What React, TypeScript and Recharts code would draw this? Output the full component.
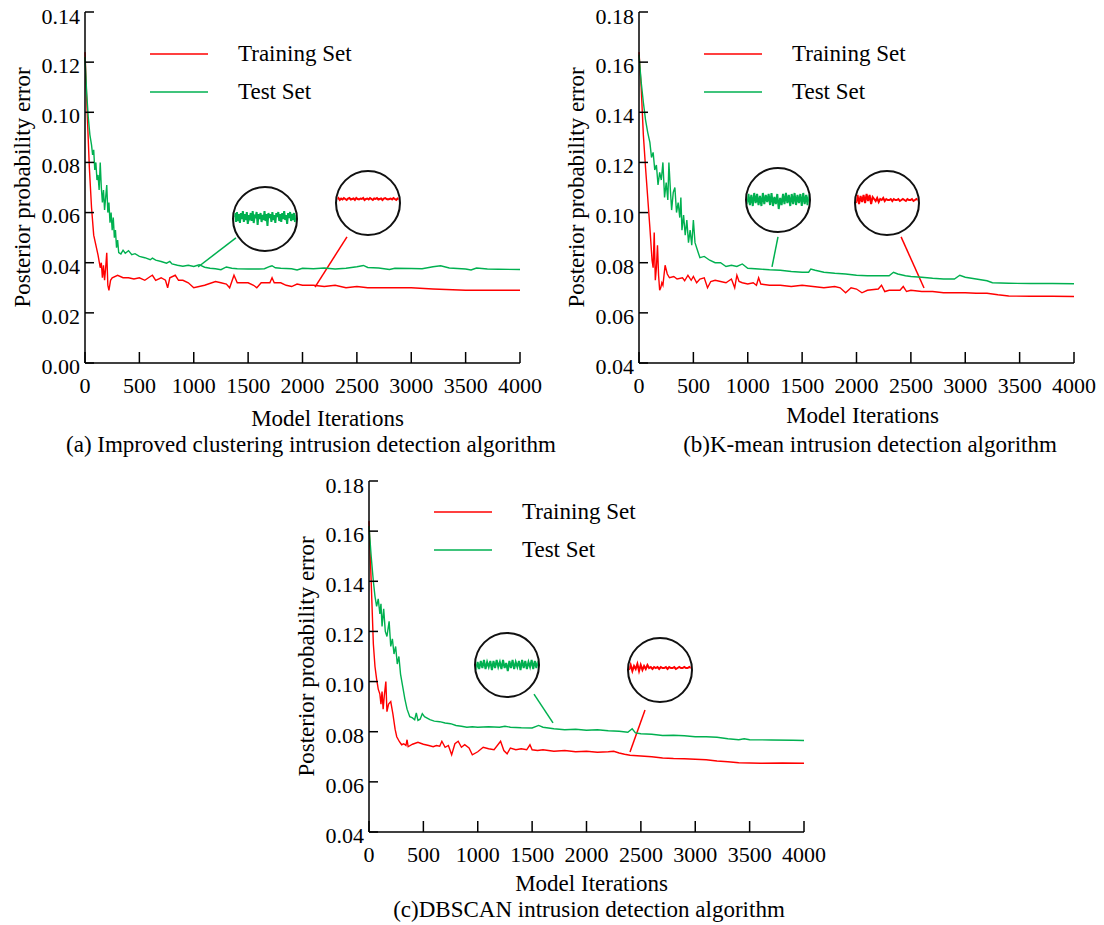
import React from "react";
import { Label, Legend, Line, LineChart, ReferenceLine, XAxis, YAxis } from "recharts";

const FONT = '"Liberation Serif", "Times New Roman", serif';
const RED = "#ff0000";
const GREEN = "#00b050";

const iterTicks = [0, 500, 1000, 1500, 2000, 2500, 3000, 3500, 4000];
const errTicksA = [0, 0.02, 0.04, 0.06, 0.08, 0.1, 0.12, 0.14];
const errTicksBC = [0.04, 0.06, 0.08, 0.1, 0.12, 0.14, 0.16, 0.18];
const seriesOrder = ["Training Set", "Test Set"];

// [iteration, posterior probability error]
const trainA: [number, number][] = [
  [0, 0.124], [20, 0.1], [40, 0.078], [60, 0.062], [80, 0.051], [100, 0.047],
  [120, 0.043], [140, 0.038], [150, 0.04], [160, 0.034], [170, 0.039], [180, 0.033],
  [190, 0.038], [200, 0.044], [210, 0.031], [220, 0.029], [235, 0.033], [250, 0.034],
  [300, 0.035], [350, 0.034], [400, 0.034], [450, 0.0335], [500, 0.034], [550, 0.033],
  [600, 0.0345], [620, 0.035], [650, 0.033], [700, 0.034], [740, 0.033], [760, 0.03],
  [780, 0.034], [830, 0.035], [860, 0.033], [900, 0.033], [950, 0.032], [1000, 0.03],
  [1100, 0.031], [1200, 0.0325], [1250, 0.032], [1300, 0.0315], [1330, 0.03], [1370, 0.035],
  [1400, 0.032], [1500, 0.032], [1550, 0.031], [1580, 0.03], [1620, 0.032], [1700, 0.032],
  [1720, 0.034], [1740, 0.032], [1800, 0.032], [1850, 0.031], [1900, 0.0305], [1950, 0.0315],
  [2000, 0.031], [2100, 0.031], [2200, 0.0305], [2300, 0.031], [2400, 0.03], [2500, 0.0305],
  [2600, 0.03], [2800, 0.03], [3000, 0.03], [3200, 0.0295], [3500, 0.029], [4000, 0.029],
];

const testA: [number, number][] = [
  [0, 0.122], [15, 0.108], [30, 0.098], [45, 0.091], [60, 0.087], [70, 0.083], [80, 0.085],
  [90, 0.077], [100, 0.08], [110, 0.073], [120, 0.075], [130, 0.069], [140, 0.08], [150, 0.07],
  [160, 0.064], [170, 0.069], [180, 0.061], [190, 0.066], [200, 0.071], [210, 0.06], [220, 0.064],
  [230, 0.056], [240, 0.06], [250, 0.053], [260, 0.058], [270, 0.05], [280, 0.053], [290, 0.046],
  [300, 0.049], [310, 0.044], [330, 0.0435], [350, 0.045], [370, 0.0438], [400, 0.0448],
  [430, 0.0432], [460, 0.0436], [500, 0.0425], [550, 0.042], [600, 0.0412], [620, 0.0418],
  [650, 0.041], [700, 0.0405], [750, 0.0398], [780, 0.0405], [800, 0.0395], [850, 0.039],
  [900, 0.0386], [950, 0.039], [1000, 0.0385], [1050, 0.0392], [1100, 0.0382], [1150, 0.0378],
  [1200, 0.0376], [1250, 0.0372], [1300, 0.0383], [1350, 0.0378], [1400, 0.0376], [1500, 0.0375],
  [1600, 0.0375], [1650, 0.0376], [1700, 0.0385], [1720, 0.0388], [1750, 0.038], [1800, 0.0378],
  [1900, 0.0376], [1950, 0.0371], [2000, 0.0378], [2100, 0.0376], [2200, 0.0379], [2300, 0.0375],
  [2400, 0.0378], [2500, 0.0384], [2560, 0.0389], [2600, 0.0381], [2700, 0.0379], [2800, 0.0373],
  [2850, 0.0378], [3000, 0.0377], [3100, 0.0376], [3200, 0.0384], [3270, 0.0388], [3350, 0.0379],
  [3500, 0.0375], [3550, 0.0371], [3600, 0.0379], [3700, 0.0375], [3800, 0.0374], [4000, 0.0373],
];

const trainB: [number, number][] = [
  [0, 0.164], [20, 0.15], [40, 0.131], [60, 0.118], [80, 0.106], [100, 0.094], [120, 0.081],
  [130, 0.078], [140, 0.092], [150, 0.073], [160, 0.078], [170, 0.087], [180, 0.075], [190, 0.069],
  [200, 0.07], [210, 0.072], [220, 0.071], [240, 0.079], [260, 0.0755], [280, 0.074], [320, 0.0745],
  [350, 0.0735], [400, 0.074], [420, 0.0728], [450, 0.075], [480, 0.073], [500, 0.0745], [530, 0.072],
  [560, 0.0735], [600, 0.074], [630, 0.07], [660, 0.0725], [700, 0.073], [750, 0.0725], [800, 0.072],
  [850, 0.0735], [880, 0.07], [900, 0.075], [920, 0.0725], [950, 0.072], [1000, 0.0715], [1050, 0.072],
  [1080, 0.071], [1100, 0.074], [1120, 0.0715], [1200, 0.071], [1300, 0.071], [1400, 0.0705],
  [1500, 0.071], [1600, 0.0705], [1700, 0.07], [1800, 0.0705], [1850, 0.07], [1900, 0.068],
  [1950, 0.07], [2000, 0.0695], [2050, 0.068], [2100, 0.069], [2200, 0.0695], [2230, 0.071],
  [2260, 0.0685], [2300, 0.069], [2400, 0.069], [2430, 0.0705], [2460, 0.0685], [2500, 0.069],
  [2600, 0.0685], [2700, 0.0685], [2800, 0.068], [2900, 0.068], [3000, 0.068], [3100, 0.0678],
  [3200, 0.0678], [3300, 0.0672], [3400, 0.0667], [3600, 0.0666], [3800, 0.0666], [4000, 0.0665],
];

const testB: [number, number][] = [
  [0, 0.163], [20, 0.152], [40, 0.144], [60, 0.137], [80, 0.132], [100, 0.128], [115, 0.122],
  [130, 0.124], [145, 0.117], [160, 0.119], [175, 0.111], [190, 0.116], [205, 0.113], [220, 0.12],
  [235, 0.106], [250, 0.112], [265, 0.105], [275, 0.12], [290, 0.108], [300, 0.101], [315, 0.108],
  [330, 0.11], [345, 0.1], [360, 0.104], [375, 0.098], [385, 0.106], [395, 0.093], [410, 0.099],
  [425, 0.091], [440, 0.097], [455, 0.088], [470, 0.093], [485, 0.087], [500, 0.097], [515, 0.088],
  [530, 0.086], [545, 0.084], [560, 0.082], [600, 0.0825], [650, 0.081], [700, 0.08], [750, 0.08],
  [800, 0.0785], [850, 0.079], [900, 0.0785], [950, 0.0795], [1000, 0.0778], [1100, 0.0775],
  [1200, 0.0772], [1300, 0.077], [1400, 0.0765], [1500, 0.0762], [1560, 0.0762], [1580, 0.0775],
  [1620, 0.077], [1700, 0.0762], [1800, 0.0758], [1900, 0.0755], [2000, 0.075], [2100, 0.0748],
  [2200, 0.0748], [2300, 0.0748], [2340, 0.0762], [2380, 0.0755], [2450, 0.0748], [2500, 0.0745],
  [2600, 0.0742], [2700, 0.0738], [2800, 0.0735], [2900, 0.0735], [2950, 0.075], [3000, 0.0742],
  [3100, 0.0735], [3200, 0.0728], [3250, 0.072], [3400, 0.0718], [3600, 0.0717], [3800, 0.0717],
  [4000, 0.0716],
];

const trainC: [number, number][] = [
  [0, 0.164], [20, 0.14], [40, 0.115], [55, 0.106], [70, 0.101], [85, 0.097], [100, 0.095],
  [110, 0.091], [120, 0.096], [130, 0.089], [140, 0.094], [155, 0.1], [165, 0.088], [180, 0.091],
  [200, 0.092], [220, 0.087], [240, 0.081], [255, 0.078], [280, 0.076], [300, 0.0748], [320, 0.0752],
  [340, 0.0745], [350, 0.0768], [360, 0.074], [400, 0.075], [450, 0.0758], [500, 0.075], [550, 0.0745],
  [590, 0.074], [620, 0.0745], [650, 0.0742], [670, 0.0762], [700, 0.0738], [730, 0.0745], [760, 0.0708],
  [790, 0.0752], [820, 0.0762], [850, 0.0738], [880, 0.0748], [920, 0.0735], [950, 0.0708], [1000, 0.072],
  [1050, 0.0738], [1100, 0.0732], [1150, 0.0728], [1210, 0.0762], [1240, 0.0725], [1270, 0.0712],
  [1300, 0.0735], [1350, 0.0728], [1400, 0.0732], [1450, 0.0728], [1480, 0.0748], [1500, 0.0728],
  [1550, 0.0725], [1600, 0.0728], [1700, 0.0722], [1800, 0.0725], [1900, 0.072], [2000, 0.0722],
  [2100, 0.0718], [2200, 0.072], [2250, 0.0722], [2300, 0.0715], [2350, 0.071], [2400, 0.0706],
  [2500, 0.0703], [2600, 0.07], [2700, 0.0695], [2800, 0.0693], [2900, 0.0692], [3000, 0.069],
  [3100, 0.0688], [3200, 0.0683], [3300, 0.068], [3400, 0.0676], [3600, 0.0674], [3800, 0.0675],
  [4000, 0.0674],
];

const testC: [number, number][] = [
  [0, 0.162], [20, 0.15], [40, 0.14], [55, 0.134], [70, 0.13], [85, 0.133], [100, 0.127], [110, 0.131],
  [120, 0.122], [135, 0.129], [150, 0.12], [165, 0.118], [185, 0.124], [200, 0.114], [215, 0.117],
  [230, 0.111], [245, 0.114], [260, 0.107], [275, 0.11], [290, 0.103], [310, 0.098], [330, 0.093],
  [350, 0.089], [375, 0.086], [400, 0.0855], [420, 0.0848], [435, 0.0875], [450, 0.0845], [470, 0.085],
  [490, 0.0872], [510, 0.086], [560, 0.0848], [600, 0.0842], [650, 0.084], [700, 0.0835], [750, 0.0832],
  [800, 0.0825], [850, 0.0822], [900, 0.0818], [950, 0.082], [1000, 0.0818], [1100, 0.082],
  [1200, 0.0818], [1250, 0.0822], [1300, 0.0818], [1400, 0.0816], [1500, 0.0815], [1560, 0.0825],
  [1600, 0.0818], [1700, 0.0812], [1800, 0.0808], [1900, 0.081], [2000, 0.0806], [2100, 0.0808],
  [2200, 0.0804], [2300, 0.0802], [2380, 0.0798], [2420, 0.0812], [2450, 0.0795], [2500, 0.0792],
  [2600, 0.079], [2700, 0.0785], [2800, 0.0786], [2900, 0.0784], [3000, 0.078], [3100, 0.078],
  [3200, 0.0778], [3300, 0.0772], [3400, 0.0768], [3450, 0.0772], [3500, 0.0768], [3700, 0.0767],
  [3900, 0.0766], [4000, 0.0765],
];

// magnified fluctuation shown in the round insets (deviation around the local level)
const zoomTestA = [
  2, 6, -3, 7, -2, 5, -4, 6, 0, 8, -3, 5, -1, 7, -5, 4, 1, 6, -2, 8, -4, 3, 2, 7, -6, 5, 0, 6, -3, 4,
  -1, 8, -2, 5, -7, 6, 1, 5, -3, 7, -1, 4, -4, 6, 2, 7, -2, 5, -3, 6, 0, 8, -1, 4, -5, 6, 1, 7, -2, 5,
  -1, 6, -3, 4,
];
const zoomTrainA = [
  4, 5, 3, 4.5, 3.5, 5, 4, 3, 4.5, 5, 3.5, 4, 4.5, 3, 5, 4, 3.5, 4.5, 4, 5, 3, 4, 4.5, 3.5, 5, 4, 3,
  4.5, 4, 5, 3.5, 4, 4.5, 3, 4.5, 5, 4, 3.5, 4, 4.5, 3.5, 5, 4, 3, 4.5, 4,
];
const zoomTestB = [
  -4, 6, -5, 5, -6, 7, -3, 6, -5, 4, -6, 7, -4, 5, -2, 6, -5, 7, -6, 3, -4, 6, -9, 2, -5, 6, -4, 7,
  -3, 5, -6, 6, -4, 7, -5, 5, -3, 6, -6, 7, -4, 5, -5, 6,
];
const zoomTrainB = [
  0, 8, -1, 7, 1, 8, 0, 9, 2, 8, -1, 6, 4, 2, 5, 1, 4, 3, 5, 2, 4, 3, 3, 4, 2, 4, 3, 3, 4, 2, 3, 4, 3,
  2, 4, 3, 3, 4, 2, 3, 4, 3,
];
const zoomTestC = [
  -5, 3, -4, 4, -3, 5, -4, 3, -2, 4, -5, 4, -3, 5, -2, 3, -4, 5, -3, 2, -6, 4, -3, 5, -4, 3, -2, 4,
  -5, 5, -3, 4, -4, 3, -2, 5, -4, 4, -3, 4,
];
const zoomTrainC = [
  0, 5, -1, 4, 1, 6, -1, 5, 0, 4, 1, 5, 2, 3, 1, 3, 2, 3, 1, 3, 2, 2, 3, 1, 3, 2, 2, 3, 1, 2, 3, 2, 2,
  3, 2, 2, 3, 2,
];

// callout segments linking each inset to its curve: [from, to] in (iteration, error)
const calloutsA = [
  { color: GREEN, from: [1388, 0.0499], to: [1039, 0.0383] },
  { color: RED, from: [2409, 0.0503], to: [2115, 0.0303] },
];
const calloutsB = [
  { color: GREEN, from: [1278, 0.0903], to: [1223, 0.0783] },
  { color: RED, from: [2410, 0.0903], to: [2621, 0.0699] },
];
const calloutsC = [
  { color: GREEN, from: [1517, 0.095], to: [1692, 0.0835] },
  { color: RED, from: [2538, 0.0887], to: [2400, 0.0719] },
];

const toPts = (arr: [number, number][]) => arr.map(([x, y]) => ({ x, y }));

function Inset({ values, color, left, top }: { values: number[]; color: string; left: number; top: number }) {
  const pts = values.map((v, i) => ({ i, v }));
  return (
    <div
      style={{
        position: "absolute",
        left,
        top,
        width: 66,
        height: 66,
        boxSizing: "border-box",
        border: "2px solid #111",
        borderRadius: "50%",
        overflow: "hidden",
        background: "#fff",
      }}
    >
      <LineChart width={62} height={62} data={pts} margin={{ top: 0, right: 0, bottom: 0, left: 0 }}>
        <XAxis dataKey="i" type="number" domain={[0, values.length - 1]} hide />
        <YAxis type="number" domain={[-31, 31]} hide />
        <Line dataKey="v" stroke={color} strokeWidth={2} dot={false} isAnimationActive={false} />
      </LineChart>
    </div>
  );
}

function LegendBox({ payload }: any) {
  const items = [...(payload ?? [])].sort(
    (a: any, b: any) => seriesOrder.indexOf(a.value) - seriesOrder.indexOf(b.value)
  );
  return (
    <div style={{ fontFamily: FONT, fontSize: 23, color: "#000" }}>
      {items.map((p: any) => (
        <div key={p.value} style={{ display: "flex", alignItems: "center", height: 38 }}>
          <svg width={58} height={4}>
            <line x1={0} y1={2} x2={58} y2={2} stroke={p.color} strokeWidth={1.5} />
          </svg>
          <span style={{ marginLeft: 30, whiteSpace: "nowrap" }}>{p.value}</span>
        </div>
      ))}
    </div>
  );
}

type PanelProps = {
  left: number;
  top: number;
  width: number;
  yDomain: [number, number];
  yTicks: number[];
  train: [number, number][];
  test: [number, number][];
  callouts: { color: string; from: number[]; to: number[] }[];
  legendTop: number;
  xLabelDx: number;
  xLabelOffset: number;
  caption: string;
  captionX: number;
  captionTop: number;
  insets: { values: number[]; color: string; left: number; top: number }[];
};

function Panel(p: PanelProps) {
  const tickStyle = { fontSize: 22, fill: "#000", fontFamily: FONT };
  return (
    <div style={{ position: "absolute", left: p.left, top: p.top, width: p.width, height: 460, fontFamily: FONT }}>
      <LineChart
        width={p.width}
        height={437}
        margin={{ top: 12, right: p.width - 520, left: 0, bottom: 0 }}
        style={{ fontFamily: FONT }}
      >
        <XAxis
          dataKey="x"
          type="number"
          domain={[0, 4000]}
          ticks={iterTicks}
          height={74}
          tickSize={-11}
          tickMargin={25}
          tick={tickStyle}
          axisLine={{ stroke: "#000", strokeWidth: 1.5 }}
          tickLine={{ stroke: "#000", strokeWidth: 1.5 }}
        >
          <Label
            value="Model Iterations"
            position="insideBottom"
            offset={p.xLabelOffset + 10}
            dx={p.xLabelDx}
            fill="#000"
            style={{ fontSize: 23, fontFamily: FONT }}
          />
        </XAxis>
        <YAxis
          type="number"
          domain={p.yDomain}
          ticks={p.yTicks}
          width={85}
          tickSize={-9}
          tickMargin={14}
          tickFormatter={(v: number) => v.toFixed(2)}
          tick={{ ...tickStyle, dy: 3 }}
          axisLine={{ stroke: "#000", strokeWidth: 1.5 }}
          tickLine={{ stroke: "#000", strokeWidth: 1.5 }}
        >
          <Label
            value="Posterior probability error"
            angle={-90}
            position="insideLeft"
            offset={22}
            fill="#000"
            style={{ fontSize: 23, fontFamily: FONT, textAnchor: "middle" }}
          />
        </YAxis>
        <Legend
          layout="vertical"
          align="center"
          verticalAlign="middle"
          wrapperStyle={{ left: 150, top: p.legendTop }}
          content={<LegendBox />}
        />
        {p.callouts.map((c, i) => (
          <ReferenceLine
            key={i}
            segment={[
              { x: c.from[0], y: c.from[1] },
              { x: c.to[0], y: c.to[1] },
            ]}
            stroke={c.color}
            strokeWidth={1.5}
            ifOverflow="visible"
          />
        ))}
        <Line
          data={toPts(p.train)}
          dataKey="y"
          name="Training Set"
          stroke={RED}
          strokeWidth={1.4}
          dot={false}
          isAnimationActive={false}
        />
        <Line
          data={toPts(p.test)}
          dataKey="y"
          name="Test Set"
          stroke={GREEN}
          strokeWidth={1.4}
          dot={false}
          isAnimationActive={false}
        />
      </LineChart>
      {p.insets.map((ins, i) => (
        <Inset key={i} {...ins} />
      ))}
      <div
        style={{
          position: "absolute",
          left: p.captionX - 300,
          width: 600,
          top: p.captionTop,
          textAlign: "center",
          fontFamily: FONT,
          fontSize: 23,
          lineHeight: "26px",
          color: "#000",
          whiteSpace: "nowrap",
        }}
      >
        {p.caption}
      </div>
    </div>
  );
}

export default function App() {
  return (
    <div
      style={{
        position: "absolute",
        left: 0,
        top: 0,
        width: 1104,
        height: 925,
        background: "#fff",
        overflow: "hidden",
        fontFamily: FONT,
      }}
    >
      <Panel
        left={0}
        top={0}
        width={560}
        yDomain={[0, 0.14]}
        yTicks={errTicksA}
        train={trainA}
        test={testA}
        callouts={calloutsA}
        legendTop={35}
        xLabelDx={25}
        xLabelOffset={1}
        caption="(a) Improved clustering intrusion detection algorithm"
        captionX={311}
        captionTop={432}
        insets={[
          { values: zoomTestA, color: GREEN, left: 232, top: 186 },
          { values: zoomTrainA, color: RED, left: 335, top: 170 },
        ]}
      />
      <Panel
        left={554}
        top={0}
        width={545}
        yDomain={[0.04, 0.18]}
        yTicks={errTicksBC}
        train={trainB}
        test={testB}
        callouts={calloutsB}
        legendTop={35}
        xLabelDx={6}
        xLabelOffset={4}
        caption="(b)K-mean intrusion detection algorithm"
        captionX={316}
        captionTop={432}
        insets={[
          { values: zoomTestB, color: GREEN, left: 191, top: 167 },
          { values: zoomTrainB, color: RED, left: 300, top: 170 },
        ]}
      />
      <Panel
        left={284}
        top={469}
        width={560}
        yDomain={[0.04, 0.18]}
        yTicks={errTicksBC}
        train={trainC}
        test={testC}
        callouts={calloutsC}
        legendTop={24}
        xLabelDx={5}
        xLabelOffset={5}
        caption="(c)DBSCAN intrusion detection algorithm"
        captionX={305}
        captionTop={428}
        insets={[
          { values: zoomTestC, color: GREEN, left: 190, top: 163 },
          { values: zoomTrainC, color: RED, left: 343, top: 168 },
        ]}
      />
    </div>
  );
}
